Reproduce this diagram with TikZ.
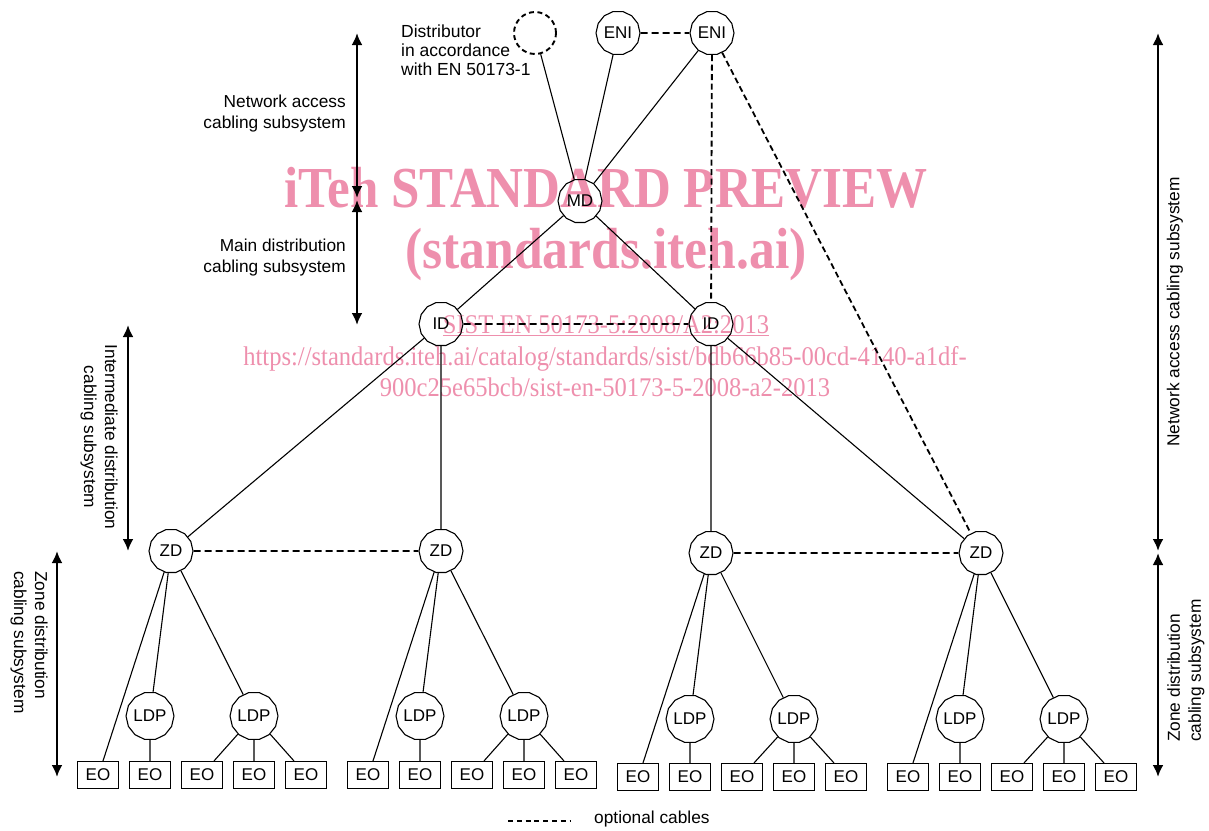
\documentclass[tikz,border=0pt]{standalone}
\usepackage{fontspec}
\setmainfont{Liberation Sans}
\newfontfamily\wmfont{Liberation Serif}
\usetikzlibrary{arrows.meta,shapes.geometric,calc}
\definecolor{wmpink}{RGB}{238,143,173}

\begin{document}
\begin{tikzpicture}[x=1pt,y=-1pt,
  hub/.style={draw, line width=1.1pt, regular polygon, regular polygon sides=14,
    minimum size=44pt, inner sep=0pt, font=\fontsize{17}{20}\selectfont},
  outlet/.style={draw, line width=1.1pt, rectangle, minimum width=41pt,
    minimum height=27pt, inner sep=0pt, font=\fontsize{17}{20}\selectfont},
  cable/.style={line width=1.1pt},
  optcable/.style={line width=1.8pt, dash pattern=on 7pt off 4pt},
  span/.style={line width=2.4pt, {Latex[length=12pt,width=11pt]}-{Latex[length=12pt,width=11pt]}},
  lbl/.style={font=\fontsize{17.3}{21}\selectfont, inner sep=0pt},
  wmbig/.style={text=wmpink, inner sep=0pt, font=\wmfont\bfseries\fontsize{58}{62}\selectfont},
  wmsmall/.style={text=wmpink, inner sep=0pt, font=\wmfont\fontsize{27}{30}\selectfont},
]
\useasboundingbox (0,0) rectangle (1209,830);

% watermark text, kept underneath the drawing
\node[wmbig, anchor=base] (wm1) at (606,207) {\scalebox{0.88}[1]{iTeh STANDARD PREVIEW}};
\node[wmbig, anchor=base] (wm2) at (606,268) {\scalebox{0.89}[1]{(standards.iteh.ai)}};
\node[wmsmall, anchor=base] (wm3) at (606,333) {\scalebox{0.91}[1]{\underline{SIST EN 50173-5:2008/A2:2013}}};
\node[wmsmall, anchor=base] (wm4) at (605,365) {\scalebox{0.91}[1]{https://standards.iteh.ai/catalog/standards/sist/bdb66b85-00cd-4140-a1df-}};
\node[wmsmall, anchor=base] (wm5) at (605,396) {\scalebox{0.91}[1]{900c25e65bcb/sist-en-50173-5-2008-a2-2013}};

% top level distributors
\node[draw, circle, line width=1.9pt, dash pattern=on 5pt off 3.5pt, minimum size=42pt] (dist) at (535,33) {};
\node[lbl, anchor=west, align=left, font=\fontsize{17.5}{19}\selectfont] (disttxt) at (401,50)
  {Distributor\\in accordance\\with EN 50173-1};
\node[hub] (eni1) at (618,33) {ENI};
\node[hub] (eni2) at (712,33) {ENI};
\node[hub] (md) at (580,201) {MD};
\node[hub] (id1) at (441,324) {ID};
\node[hub] (id2) at (711,324) {ID};

% zone groups: ZD, two LDPs and five outlets each
\foreach \g/\zx/\zy/\la/\lb/\ly/\ea/\eb/\ec/\ed/\ee/\ey in {
  1/171/551/150/254/716/98/150/202/254/306/775,
  2/441/551/420/524/716/368/420/472/524/576/775,
  3/711/553/690/794/719/638/690/742/794/846/777,
  4/981/553/960/1064/719/908/960/1012/1064/1116/777} {
  \node[hub] (zd\g) at (\zx,\zy) {ZD};
  \node[hub] (ldpa\g) at (\la,\ly) {LDP};
  \node[hub] (ldpb\g) at (\lb,\ly) {LDP};
  \node[outlet] (eo\g a) at (\ea,\ey) {EO};
  \node[outlet] (eo\g b) at (\eb,\ey) {EO};
  \node[outlet] (eo\g c) at (\ec,\ey) {EO};
  \node[outlet] (eo\g d) at (\ed,\ey) {EO};
  \node[outlet] (eo\g e) at (\ee,\ey) {EO};
  \draw[cable] (zd\g) -- ($(eo\g a.north)+(5,0)$);
  \draw[cable] (zd\g) -- (ldpa\g);
  \draw[cable] (zd\g) -- (ldpb\g);
  \draw[cable] (ldpa\g) -- (eo\g b.north);
  \draw[cable] (ldpb\g) -- ($(eo\g c.north)+(12,0)$);
  \draw[cable] (ldpb\g) -- (eo\g d.north);
  \draw[cable] (ldpb\g) -- ($(eo\g e.north)+(-12,0)$);
}

% backbone cables
\draw[cable] (dist) -- (md);
\draw[cable] (eni1) -- (md);
\draw[cable] (eni2) -- (md);
\draw[cable] (md) -- (id1);
\draw[cable] (md) -- (id2);
\draw[cable] (id1) -- (zd1);
\draw[cable] (id1) -- (zd2);
\draw[cable] (id2) -- (zd3);
\draw[cable] (id2) -- (zd4);

% optional cables
\draw[optcable] (eni1) -- (eni2);
\draw[optcable, dash pattern=on 6pt off 3.5pt] (eni2) -- (id2);
\draw[optcable, dash pattern=on 6pt off 3.5pt] (eni2) -- (zd4);
\draw[optcable] (id1) -- (id2);
\draw[optcable] (zd1) -- (zd2);
\draw[optcable] (zd3) -- (zd4);

% subsystem extents, left side
\coordinate (naT) at (357,33);
\coordinate (naB) at (357,198);
\coordinate (mdT) at (357,200);
\coordinate (mdB) at (357,325);
\coordinate (idT) at (128,325);
\coordinate (idB) at (128,551);
\coordinate (zdT) at (57,551);
\coordinate (zdB) at (57,777);
\draw[span] (naT) -- (naB);
\draw[span] (mdT) -- (mdB);
\draw[span] (idT) -- (idB);
\draw[span] (zdT) -- (zdB);
\node[lbl, anchor=east, align=right] (natxt) at (346,114) {Network access\\cabling subsystem};
\node[lbl, anchor=east, align=right] (mdtxt) at (346,258) {Main distribution\\cabling subsystem};
\node[lbl, rotate=-90, align=center] (idtxt) at (99,437) {Intermediate distribution\\cabling subsystem};
\node[lbl, rotate=-90, anchor=west, align=left] (zdtxt) at (29,571) {Zone distribution\\cabling subsystem};

% subsystem extents, right side
\coordinate (rnaT) at (1158,33);
\coordinate (rnaB) at (1158,551);
\coordinate (rzdT) at (1158,553);
\coordinate (rzdB) at (1158,777);
\draw[span] (rnaT) -- (rnaB);
\draw[span] (rzdT) -- (rzdB);
\node[lbl, rotate=90] (rnatxt) at (1175,312) {Network access cabling subsystem};
\node[lbl, rotate=90, anchor=west, align=left] (rzdtxt) at (1186,742) {Zone distribution\\cabling subsystem};

% legend
\coordinate (legA) at (508,821);
\node[lbl, anchor=west] (legtxt) at (594,819) {optional cables};
\coordinate (legB) at (570,821);
\draw[optcable, dash pattern=on 5pt off 3.8pt] (legA) -- (legB);
\end{tikzpicture}
\end{document}
